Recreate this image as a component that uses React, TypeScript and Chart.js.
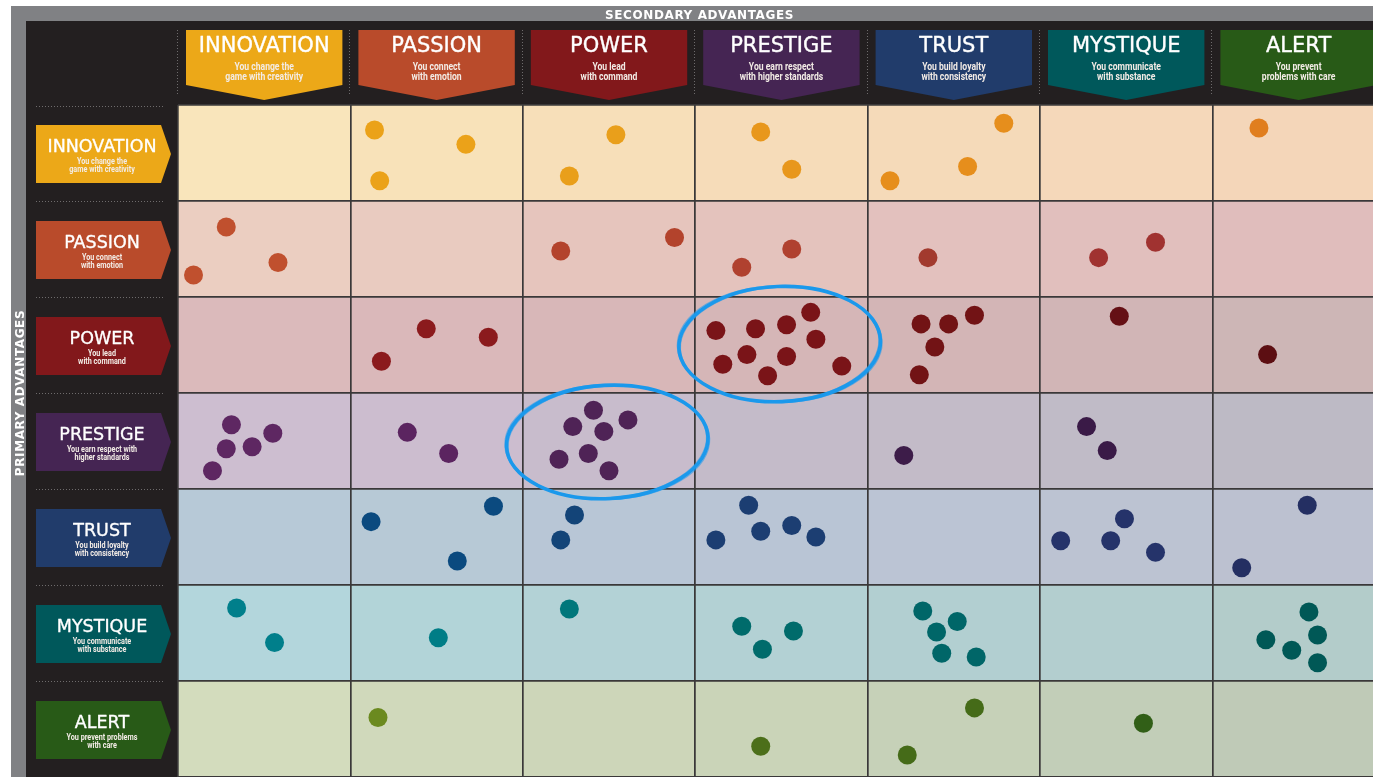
import React, { useEffect, useRef } from "react";
import { Chart, registerables } from "chart.js";

Chart.register(...registerables);

const CANVAS_W = 1373;
const CANVAS_H = 777;

// ---------- categories & labels ----------
const categories = ["INNOVATION", "PASSION", "POWER", "PRESTIGE", "TRUST", "MYSTIQUE", "ALERT"];
const columnTaglines = [
  ["You change the", "game with creativity"],
  ["You connect", "with emotion"],
  ["You lead", "with command"],
  ["You earn respect", "with higher standards"],
  ["You build loyalty", "with consistency"],
  ["You communicate", "with substance"],
  ["You prevent", "problems with care"],
];
const rowTaglines = [
  ["You change the", "game with creativity"],
  ["You connect", "with emotion"],
  ["You lead", "with command"],
  ["You earn respect with", "higher standards"],
  ["You build loyalty", "with consistency"],
  ["You communicate", "with substance"],
  ["You prevent problems", "with care"],
];
const topAxisTitle = "SECONDARY ADVANTAGES";
const sideAxisTitle = "PRIMARY ADVANTAGES";
const gridTicks = [0, 1, 2, 3, 4, 5, 6, 7];

// ---------- data (x = secondary column position, y = primary row position) ----------
type P = { x: number; y: number };

const innovationPoints: P[] = [
  { x: 1.14, y: 0.26 }, { x: 1.67, y: 0.41 }, { x: 1.17, y: 0.79 },
  { x: 2.54, y: 0.31 }, { x: 2.27, y: 0.74 },
  { x: 3.38, y: 0.28 }, { x: 3.56, y: 0.67 },
  { x: 4.79, y: 0.19 }, { x: 4.58, y: 0.64 }, { x: 4.13, y: 0.79 },
  { x: 6.27, y: 0.24 },
];
const passionPoints: P[] = [
  { x: 0.28, y: 1.27 }, { x: 0.09, y: 1.77 }, { x: 0.58, y: 1.64 },
  { x: 2.22, y: 1.52 }, { x: 2.88, y: 1.38 },
  { x: 3.56, y: 1.5 }, { x: 3.27, y: 1.69 },
  { x: 4.35, y: 1.59 },
  { x: 5.34, y: 1.59 }, { x: 5.67, y: 1.43 },
];
const powerPoints: P[] = [
  { x: 1.44, y: 2.33 }, { x: 1.8, y: 2.42 }, { x: 1.18, y: 2.67 },
  { x: 3.12, y: 2.35 }, { x: 3.35, y: 2.33 }, { x: 3.53, y: 2.29 }, { x: 3.67, y: 2.16 },
  { x: 3.7, y: 2.44 }, { x: 3.16, y: 2.7 }, { x: 3.3, y: 2.6 }, { x: 3.53, y: 2.62 },
  { x: 3.42, y: 2.82 }, { x: 3.85, y: 2.72 },
  { x: 4.31, y: 2.28 }, { x: 4.47, y: 2.28 }, { x: 4.62, y: 2.19 }, { x: 4.39, y: 2.52 }, { x: 4.3, y: 2.81 },
  { x: 5.46, y: 2.2 },
  { x: 6.32, y: 2.6 },
];
const prestigePoints: P[] = [
  { x: 0.31, y: 3.33 }, { x: 0.55, y: 3.42 }, { x: 0.28, y: 3.58 }, { x: 0.43, y: 3.56 }, { x: 0.2, y: 3.81 },
  { x: 1.33, y: 3.41 }, { x: 1.57, y: 3.63 },
  { x: 2.41, y: 3.18 }, { x: 2.61, y: 3.28 }, { x: 2.29, y: 3.35 }, { x: 2.47, y: 3.4 },
  { x: 2.38, y: 3.63 }, { x: 2.21, y: 3.69 }, { x: 2.5, y: 3.81 },
  { x: 4.21, y: 3.65 },
  { x: 5.27, y: 3.35 }, { x: 5.39, y: 3.6 },
];
const trustPoints: P[] = [
  { x: 1.12, y: 4.34 }, { x: 1.83, y: 4.18 }, { x: 1.62, y: 4.75 },
  { x: 2.3, y: 4.27 }, { x: 2.22, y: 4.53 },
  { x: 3.31, y: 4.17 }, { x: 3.12, y: 4.53 }, { x: 3.38, y: 4.44 }, { x: 3.56, y: 4.38 }, { x: 3.7, y: 4.5 },
  { x: 5.49, y: 4.31 }, { x: 5.12, y: 4.54 }, { x: 5.41, y: 4.54 }, { x: 5.67, y: 4.66 },
  { x: 6.55, y: 4.17 }, { x: 6.17, y: 4.82 },
];
const mystiquePoints: P[] = [
  { x: 0.34, y: 5.24 }, { x: 0.56, y: 5.6 },
  { x: 1.51, y: 5.55 },
  { x: 2.27, y: 5.25 },
  { x: 3.27, y: 5.43 }, { x: 3.57, y: 5.48 }, { x: 3.39, y: 5.67 },
  { x: 4.32, y: 5.27 }, { x: 4.52, y: 5.38 }, { x: 4.4, y: 5.49 }, { x: 4.43, y: 5.71 }, { x: 4.63, y: 5.75 },
  { x: 6.56, y: 5.28 }, { x: 6.61, y: 5.52 }, { x: 6.31, y: 5.57 }, { x: 6.46, y: 5.68 }, { x: 6.61, y: 5.81 },
];
const alertPoints: P[] = [
  { x: 1.16, y: 6.38 },
  { x: 3.38, y: 6.68 },
  { x: 4.62, y: 6.28 }, { x: 4.23, y: 6.77 },
  { x: 5.6, y: 6.44 },
];
const rowPoints = [innovationPoints, passionPoints, powerPoints, prestigePoints, trustPoints, mystiquePoints, alertPoints];

// highlighted clusters (centre in grid units, radii in grid units)
const highlightRings = [
  { x: 3.49, y: 2.49, rx: 0.585, ry: 0.6, tilt: -0.04 },
  { x: 2.49, y: 3.51, rx: 0.585, ry: 0.59, tilt: -0.05 },
];

// ---------- palette ----------
const bannerColors = ["#eca818", "#b94b2b", "#82181b", "#452553", "#213c6b", "#00585b", "#285a17"];
const cellColors = [
  ["#f9e5bb", "#f8e2b9", "#f7dfb9", "#f6dcb9", "#f5dab9", "#f5d8ba", "#f4d6b9"],
  ["#ebcec1", "#e9cbc0", "#e6c5bd", "#e4c3bd", "#e3c1be", "#e1bfbd", "#e0bdbc"],
  ["#dbbabb", "#dab8ba", "#d8b7b8", "#d5b6b7", "#d3b5b6", "#d1b5b6", "#cdb6b6"],
  ["#cdbed0", "#ccbdcf", "#c8bccc", "#c4bbc9", "#c3bbc8", "#c0bbc7", "#bdbac5"],
  ["#b7c9d7", "#b7c9d6", "#b8c6d6", "#b9c5d5", "#bbc4d4", "#bcc3d2", "#bcc1d0"],
  ["#b3d6dc", "#b2d4d8", "#b3d2d6", "#b3d1d4", "#b2cfd1", "#b3cecf", "#b3ccca"],
  ["#d3dcbd", "#d0d9bb", "#cdd6b9", "#cad4b8", "#c6d1b8", "#c2ceb8", "#bfcab7"],
];
const dotColors = [
  ["#eba41a", "#eba219", "#e99f1b", "#e8971c", "#e68e1c", "#e4881d", "#e07e1e"],
  ["#c0502e", "#bb4a2d", "#b3432c", "#b0412f", "#a23a2e", "#a03230", "#9a3030"],
  ["#8b1a1d", "#8b1a1d", "#821719", "#7a1418", "#721315", "#651015", "#5c0e12"],
  ["#5e2762", "#5b2460", "#4f2356", "#45204f", "#3d1c49", "#3a1a47", "#361944"],
  ["#0b4a7f", "#0b4a7f", "#134478", "#1c3e72", "#22386d", "#25336a", "#242f62"],
  ["#007f8b", "#007d86", "#00777b", "#006b6b", "#006668", "#005f5e", "#005856"],
  ["#6b8a1f", "#6b8a1f", "#5a7d1c", "#4c6f1a", "#456b18", "#315f17", "#2f5b17"],
];

const TITLE_FONT = '"DejaVu Sans", "Noto Sans", sans-serif';
const NARROW_FONT = 'Roboto, "Noto Sans", sans-serif';

function narrowText(ctx: CanvasRenderingContext2D, text: string, cx: number, baseline: number, size: number, squeeze: number) {
  ctx.save();
  ctx.translate(cx, baseline);
  ctx.scale(squeeze, 1);
  ctx.font = `bold ${size}px ${NARROW_FONT}`;
  ctx.textAlign = "center";
  ctx.textBaseline = "alphabetic";
  ctx.fillText(text, 0, 0);
  ctx.restore();
}

function heavyText(ctx: CanvasRenderingContext2D, text: string, cx: number, baseline: number, size: number) {
  ctx.save();
  ctx.font = `${size}px ${TITLE_FONT}`;
  ctx.textAlign = "center";
  ctx.textBaseline = "alphabetic";
  ctx.fillStyle = "#ffffff";
  ctx.strokeStyle = "#ffffff";
  ctx.lineWidth = 0.35;
  ctx.lineJoin = "round";
  ctx.fillText(text, cx, baseline);
  ctx.strokeText(text, cx, baseline);
  ctx.restore();
}

const matrixPlugin = {
  id: "matrixFrame",
  beforeDraw(chart: any) {
    const { ctx, scales, chartArea } = chart;
    const xs = scales.x;
    const ys = scales.y;
    ctx.save();
    ctx.fillStyle = "#ffffff";
    ctx.fillRect(0, 0, CANVAS_W, CANVAS_H);
    ctx.fillStyle = "#808184";
    ctx.fillRect(11, 6, CANVAS_W - 11, CANVAS_H - 6);
    ctx.fillStyle = "#231f20";
    ctx.fillRect(26, 21, CANVAS_W - 26, CANVAS_H - 21);

    // axis titles
    ctx.fillStyle = "#ffffff";
    ctx.font = `bold 12px ${TITLE_FONT}`;
    ctx.textAlign = "center";
    ctx.textBaseline = "alphabetic";
    (ctx as any).letterSpacing = "0.6px";
    ctx.fillText(topAxisTitle, (26 + CANVAS_W) / 2, 19);
    ctx.save();
    ctx.translate(23.5, 393);
    ctx.rotate(-Math.PI / 2);
    ctx.fillText(sideAxisTitle, 0, 0);
    ctx.restore();
    (ctx as any).letterSpacing = "0px";

    // cells
    ctx.save();
    ctx.beginPath();
    ctx.rect(chartArea.left, chartArea.top, chartArea.right - chartArea.left, chartArea.bottom - chartArea.top);
    ctx.clip();
    for (let r = 0; r < 7; r++) {
      for (let c = 0; c < 7; c++) {
        const x0 = xs.getPixelForValue(c);
        const x1 = xs.getPixelForValue(c + 1);
        const y0 = ys.getPixelForValue(r);
        const y1 = ys.getPixelForValue(r + 1);
        ctx.fillStyle = cellColors[r][c];
        ctx.fillRect(x0, y0, x1 - x0, y1 - y0);
      }
    }
    ctx.restore();

    // dotted separators
    ctx.save();
    ctx.strokeStyle = "#6e6b6c";
    ctx.lineWidth = 1;
    ctx.setLineDash([1, 2]);
    for (let c = 0; c < 7; c++) {
      const px = Math.round(xs.getPixelForValue(c)) - 0.5;
      ctx.beginPath();
      ctx.moveTo(px, 30);
      ctx.lineTo(px, 95);
      ctx.stroke();
    }
    for (let r = 0; r < 7; r++) {
      const py = Math.round(ys.getPixelForValue(r)) + (r === 0 ? 1.5 : 0.5);
      ctx.beginPath();
      ctx.moveTo(36, py);
      ctx.lineTo(165, py);
      ctx.stroke();
    }
    ctx.restore();

    // column banners
    for (let c = 0; c < 7; c++) {
      const x0 = xs.getPixelForValue(c) + 8;
      const x1 = xs.getPixelForValue(c + 1) - 8;
      const mid = (x0 + x1) / 2;
      ctx.fillStyle = bannerColors[c];
      ctx.beginPath();
      ctx.moveTo(x0, 30);
      ctx.lineTo(x1, 30);
      ctx.lineTo(x1, 85);
      ctx.lineTo(mid, 100);
      ctx.lineTo(x0, 85);
      ctx.closePath();
      ctx.fill();
      heavyText(ctx, categories[c], mid, 52, 21);
      ctx.fillStyle = "#f3ece6";
      narrowText(ctx, columnTaglines[c][0], mid, 69.5, 11, 0.78);
      narrowText(ctx, columnTaglines[c][1], mid, 79.5, 11, 0.78);
    }

    // row banners
    for (let r = 0; r < 7; r++) {
      const cy = (ys.getPixelForValue(r) + ys.getPixelForValue(r + 1)) / 2;
      ctx.fillStyle = bannerColors[r];
      ctx.beginPath();
      ctx.moveTo(36, cy - 28);
      ctx.lineTo(161, cy - 28);
      ctx.lineTo(171, cy + 1);
      ctx.lineTo(161, cy + 30);
      ctx.lineTo(36, cy + 30);
      ctx.closePath();
      ctx.fill();
      heavyText(ctx, categories[r], 102, cy - 1, 17.5);
      ctx.fillStyle = "#f3ece6";
      narrowText(ctx, rowTaglines[r][0], 102, cy + 10.5, 9.5, 0.76);
      narrowText(ctx, rowTaglines[r][1], 102, cy + 18.5, 9.5, 0.76);
    }
    ctx.restore();
  },
  afterDatasetsDraw(chart: any) {
    const { ctx, scales } = chart;
    const xs = scales.x;
    const ys = scales.y;
    const unitX = xs.getPixelForValue(1) - xs.getPixelForValue(0);
    const unitY = ys.getPixelForValue(1) - ys.getPixelForValue(0);
    ctx.save();
    for (const ring of highlightRings) {
      const cx = xs.getPixelForValue(ring.x);
      const cy = ys.getPixelForValue(ring.y);
      const rx = ring.rx * unitX;
      const ry = ring.ry * unitY;
      const passes = [
        { d: 0, w: 3.6, a: 1, t: 0 },
        { d: 1.6, w: 1.2, a: 0.55, t: 0.02 },
        { d: -1.5, w: 1.1, a: 0.5, t: -0.015 },
      ];
      for (const p of passes) {
        ctx.strokeStyle = `rgba(27,153,236,${p.a})`;
        ctx.lineWidth = p.w;
        ctx.beginPath();
        ctx.ellipse(cx, cy, rx + p.d, ry + p.d * 0.6, ring.tilt + p.t, 0, Math.PI * 2);
        ctx.stroke();
      }
    }
    ctx.restore();
  },
};

export default function App() {
  const canvasRef = useRef<HTMLCanvasElement>(null);

  useEffect(() => {
    const canvas = canvasRef.current;
    if (!canvas) return;
    const datasets = rowPoints.map((pts, r) => ({
      label: categories[r],
      data: pts,
      pointRadius: 9.5,
      pointHoverRadius: 9.5,
      borderWidth: 0,
      pointBorderWidth: 0,
      backgroundColor: (ctx: any) => {
        const raw = ctx.raw as P | undefined;
        const col = raw ? Math.min(6, Math.max(0, Math.floor(raw.x))) : 0;
        return dotColors[r][col];
      },
    }));

    const chart = new Chart(canvas, {
      type: "scatter",
      data: { datasets },
      options: {
        responsive: false,
        maintainAspectRatio: false,
        animation: false,
        devicePixelRatio: 1,
        layout: { autoPadding: false, padding: { left: 178, top: 105, right: 0, bottom: 0 } },
        plugins: {
          legend: { display: false },
          tooltip: { enabled: false },
          title: { display: false },
        },
        events: [],
        scales: {
          x: {
            type: "linear",
            min: 0,
            max: (CANVAS_W - 178) / 172.4,
            afterBuildTicks: (scale: any) => {
              scale.ticks = gridTicks.slice(0, 7).map((v) => ({ value: v }));
            },
            ticks: { display: false },
            grid: { color: "#3a3839", lineWidth: 1.7, drawTicks: false },
            border: { display: false },
          },
          y: {
            type: "linear",
            min: 0,
            max: 7,
            reverse: true,
            afterBuildTicks: (scale: any) => {
              scale.ticks = gridTicks.map((v) => ({ value: v }));
            },
            ticks: { display: false },
            grid: { color: "#3a3839", lineWidth: 1.7, drawTicks: false },
            border: { display: false },
          },
        },
      },
      plugins: [matrixPlugin as any],
    });
    return () => chart.destroy();
  }, []);

  return (
    <div style={{ position: "fixed", left: 0, top: 0, width: CANVAS_W, height: CANVAS_H, background: "#fff", overflow: "hidden" }}>
      <canvas ref={canvasRef} width={CANVAS_W} height={CANVAS_H} style={{ display: "block", width: CANVAS_W, height: CANVAS_H }} />
    </div>
  );
}
